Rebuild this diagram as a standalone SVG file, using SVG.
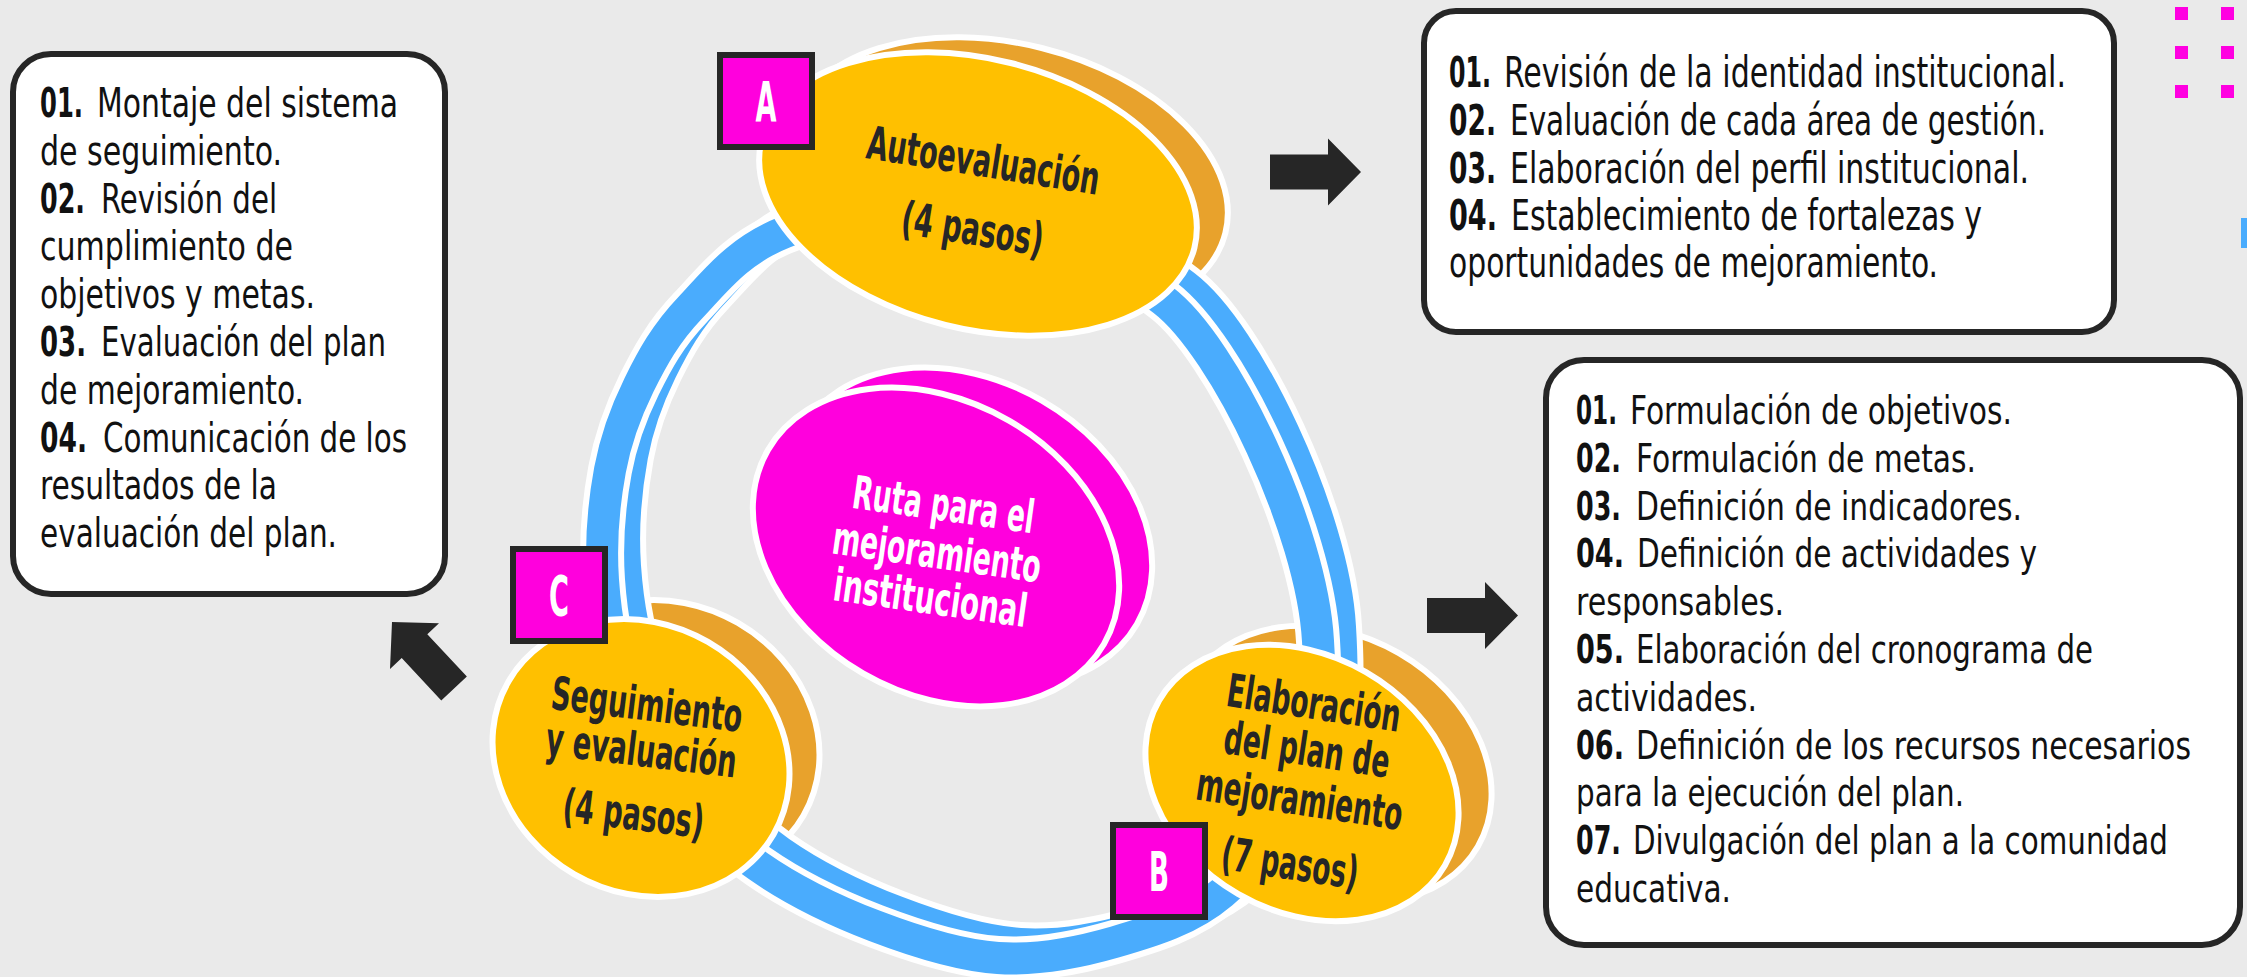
<svg xmlns="http://www.w3.org/2000/svg" width="2247" height="977" viewBox="0 0 2247 977">
<defs>
<style>
.bg{fill:#eaeaea}
.ring-w{fill:none;stroke:#fff;stroke-width:44;stroke-linejoin:round}
.ring-b{fill:none;stroke:#4aacfd;stroke-width:32;stroke-linejoin:round}
.depth{fill:#e8a22c;stroke:#fff;stroke-width:6}
.front{fill:#ffc000;stroke:#fff;stroke-width:6}
.mag{fill:#ff00dd;stroke:#fff;stroke-width:6}
.lbl{fill:#ff00dd;stroke:#262626;stroke-width:6}
.cond{font-family:'Liberation Sans Narrow','DejaVu Sans Condensed','Liberation Sans',sans-serif}
.lt{font-weight:700;font-size:56px;fill:#fff;text-anchor:middle}
.nt{font-weight:700;font-size:46px;fill:#262626;text-anchor:middle}
.ct{font-weight:700;font-size:46px;fill:#fff;text-anchor:middle}
.box{fill:#fff;stroke:#262626;stroke-width:6}
.bt{fill:#111}
.n{font-weight:700}
.arrow{fill:#262626}
.dot{fill:#ff00e1}
</style>
<path id="ring" d="M975,197 C1038,208.3 1120.2,267.5 1163,300 C1225,347 1312,530 1318,641 C1321,689 1321,738 1305,780 C1289,822 1253.7,866 1222,893 C1190.3,920 1152.3,931.2 1115,942 C1077.7,952.8 1038,960.7 998,958 C958,955.3 915,941.3 875,926 C835,910.7 790.5,888.7 758,866 C725.5,843.3 702.2,819.3 680,790 C657.8,760.7 637.8,725 625,690 C612.2,655 605.5,616.7 603,580 C600.5,543.3 604,502.5 610,470 C616,437.5 625.7,412 639,385 C652.3,358 665.7,333.5 690,308 C714.3,282.5 737.5,250.5 785,232 C832.5,213.5 912,185.7 975,197 Z"/>
<path id="arr" d="M-91,-17.5H-33V-33.5L0,0L-33,33.5V17.5H-91Z"/>
</defs>

<rect class="bg" x="0" y="0" width="2247" height="977"/>

<g id="decor">
<rect class="dot" x="2175" y="7" width="13" height="13"/>
<rect class="dot" x="2221" y="7" width="13" height="13"/>
<rect class="dot" x="2175" y="46" width="13" height="13"/>
<rect class="dot" x="2221" y="46" width="13" height="13"/>
<rect class="dot" x="2175" y="85" width="13" height="13"/>
<rect class="dot" x="2221" y="85" width="13" height="13"/>
<rect x="2241" y="218" width="6" height="30" fill="#4aacfd"/>
</g>

<g id="node-depth">
<ellipse class="depth" cx="0" cy="0" rx="223" ry="135" transform="translate(1009,179) rotate(14)"/>
<ellipse class="depth" cx="0" cy="0" rx="165" ry="128" transform="translate(1335,764) rotate(30)"/>
<ellipse class="depth" cx="0" cy="0" rx="153" ry="134" transform="translate(671,739) rotate(30)"/>
</g>

<g id="connectors">
<use href="#ring" class="ring-w" transform="translate(22,-14)"/>
<use href="#ring" class="ring-b" transform="translate(22,-14)"/>
<use href="#ring" class="ring-w"/>
<use href="#ring" class="ring-b"/>
<use href="#arr" class="arrow" transform="translate(1361,172)"/>
<use href="#arr" class="arrow" transform="translate(1518,615.5)"/>
<use href="#arr" class="arrow" transform="translate(392,622) rotate(-133)"/>
</g>

<g id="node-autoevaluacion">
<ellipse class="front" cx="0" cy="0" rx="223" ry="135" transform="translate(978,194) rotate(14)"/>
<g transform="rotate(9 976 208)">
<text class="cond nt" x="976" y="176" textLength="235" lengthAdjust="spacingAndGlyphs">Autoevaluación</text>
<text class="cond nt" x="976" y="245" textLength="143" lengthAdjust="spacingAndGlyphs">(4 pasos)</text>
</g>
</g>

<g id="node-elaboracion">
<ellipse class="front" cx="0" cy="0" rx="165" ry="128" transform="translate(1302,783) rotate(30)"/>
<g transform="rotate(8.5 1301 790)">
<text class="cond nt" x="1301" y="718" textLength="175" lengthAdjust="spacingAndGlyphs">Elaboración</text>
<text class="cond nt" x="1301" y="765" textLength="167" lengthAdjust="spacingAndGlyphs">del plan de</text>
<text class="cond nt" x="1301" y="815" textLength="208" lengthAdjust="spacingAndGlyphs">mejoramiento</text>
<text class="cond nt" x="1301" y="880" textLength="138" lengthAdjust="spacingAndGlyphs">(7 pasos)</text>
</g>
</g>

<g id="node-seguimiento">
<ellipse class="front" cx="0" cy="0" rx="153" ry="134" transform="translate(641,758) rotate(30)"/>
<g transform="rotate(7 639 770)">
<text class="cond nt" x="639" y="720" textLength="192" lengthAdjust="spacingAndGlyphs">Seguimiento</text>
<text class="cond nt" x="639" y="766" textLength="192" lengthAdjust="spacingAndGlyphs">y evaluación</text>
<text class="cond nt" x="639" y="830" textLength="142" lengthAdjust="spacingAndGlyphs">(4 pasos)</text>
</g>
</g>

<g id="node-ruta">
<ellipse class="mag" cx="0" cy="0" rx="194" ry="146" transform="translate(969,527) rotate(30)"/>
<ellipse class="mag" cx="0" cy="0" rx="194" ry="146" transform="translate(936,547) rotate(30)"/>
<g transform="rotate(8 935 566)">
<text class="cond ct" x="935" y="520" textLength="183" lengthAdjust="spacingAndGlyphs">Ruta para el</text>
<text class="cond ct" x="935" y="568" textLength="210" lengthAdjust="spacingAndGlyphs">mejoramiento</text>
<text class="cond ct" x="935" y="614" textLength="195" lengthAdjust="spacingAndGlyphs">institucional</text>
</g>
</g>

<g id="label-A">
<rect class="lbl" x="720" y="55" width="92" height="92"/>
<text class="cond lt" x="766" y="121" textLength="21" lengthAdjust="spacingAndGlyphs">A</text>
</g>
<g id="label-B">
<rect class="lbl" x="1113" y="825" width="92" height="92"/>
<text class="cond lt" x="1159" y="891" textLength="20" lengthAdjust="spacingAndGlyphs">B</text>
</g>
<g id="label-C">
<rect class="lbl" x="513" y="549" width="92" height="92"/>
<text class="cond lt" x="559" y="615" textLength="20" lengthAdjust="spacingAndGlyphs">C</text>
</g>

<g id="box-seguimiento">
<rect class="box" x="13" y="54" width="432" height="540" rx="38"/>
<g class="cond bt" font-size="40">
<text class="n" x="40" y="117" textLength="43" lengthAdjust="spacingAndGlyphs">01.</text>
<text x="97" y="117" textLength="301" lengthAdjust="spacingAndGlyphs">Montaje del sistema</text>
<text x="40" y="165" textLength="242" lengthAdjust="spacingAndGlyphs">de seguimiento.</text>
<text class="n" x="40" y="213" textLength="45" lengthAdjust="spacingAndGlyphs">02.</text>
<text x="101" y="213" textLength="176" lengthAdjust="spacingAndGlyphs">Revisión del</text>
<text x="40" y="260" textLength="253" lengthAdjust="spacingAndGlyphs">cumplimiento de</text>
<text x="40" y="308" textLength="275" lengthAdjust="spacingAndGlyphs">objetivos y metas.</text>
<text class="n" x="40" y="356" textLength="46" lengthAdjust="spacingAndGlyphs">03.</text>
<text x="101" y="356" textLength="285" lengthAdjust="spacingAndGlyphs">Evaluación del plan</text>
<text x="40" y="404" textLength="264" lengthAdjust="spacingAndGlyphs">de mejoramiento.</text>
<text class="n" x="40" y="452" textLength="47" lengthAdjust="spacingAndGlyphs">04.</text>
<text x="103" y="452" textLength="304" lengthAdjust="spacingAndGlyphs">Comunicación de los</text>
<text x="40" y="499" textLength="237" lengthAdjust="spacingAndGlyphs">resultados de la</text>
<text x="40" y="547" textLength="297" lengthAdjust="spacingAndGlyphs">evaluación del plan.</text>
</g>
</g>

<g id="box-autoevaluacion">
<rect class="box" x="1424" y="11" width="690" height="321" rx="32"/>
<g class="cond bt" font-size="42">
<text class="n" x="1449" y="87" textLength="42" lengthAdjust="spacingAndGlyphs">01.</text>
<text x="1504" y="87" textLength="562" lengthAdjust="spacingAndGlyphs">Revisión de la identidad institucional.</text>
<text class="n" x="1449" y="135" textLength="47" lengthAdjust="spacingAndGlyphs">02.</text>
<text x="1510" y="135" textLength="536" lengthAdjust="spacingAndGlyphs">Evaluación de cada área de gestión.</text>
<text class="n" x="1449" y="183" textLength="47" lengthAdjust="spacingAndGlyphs">03.</text>
<text x="1510" y="183" textLength="519" lengthAdjust="spacingAndGlyphs">Elaboración del perfil institucional.</text>
<text class="n" x="1449" y="230" textLength="48" lengthAdjust="spacingAndGlyphs">04.</text>
<text x="1511" y="230" textLength="471" lengthAdjust="spacingAndGlyphs">Establecimiento de fortalezas y</text>
<text x="1449" y="277" textLength="489" lengthAdjust="spacingAndGlyphs">oportunidades de mejoramiento.</text>
</g>
</g>

<g id="box-elaboracion">
<rect class="box" x="1546" y="360" width="694" height="585" rx="38"/>
<g class="cond bt" font-size="39">
<text class="n" x="1576" y="424" textLength="41" lengthAdjust="spacingAndGlyphs">01.</text>
<text x="1630" y="424" textLength="382" lengthAdjust="spacingAndGlyphs">Formulación de objetivos.</text>
<text class="n" x="1576" y="472" textLength="45" lengthAdjust="spacingAndGlyphs">02.</text>
<text x="1636" y="472" textLength="340" lengthAdjust="spacingAndGlyphs">Formulación de metas.</text>
<text class="n" x="1576" y="520" textLength="45" lengthAdjust="spacingAndGlyphs">03.</text>
<text x="1636" y="520" textLength="386" lengthAdjust="spacingAndGlyphs">Definición de indicadores.</text>
<text class="n" x="1576" y="567" textLength="48" lengthAdjust="spacingAndGlyphs">04.</text>
<text x="1637" y="567" textLength="400" lengthAdjust="spacingAndGlyphs">Definición de actividades y</text>
<text x="1576" y="615" textLength="208" lengthAdjust="spacingAndGlyphs">responsables.</text>
<text class="n" x="1576" y="663" textLength="48" lengthAdjust="spacingAndGlyphs">05.</text>
<text x="1636" y="663" textLength="457" lengthAdjust="spacingAndGlyphs">Elaboración del cronograma de</text>
<text x="1576" y="711" textLength="181" lengthAdjust="spacingAndGlyphs">actividades.</text>
<text class="n" x="1576" y="759" textLength="48" lengthAdjust="spacingAndGlyphs">06.</text>
<text x="1636" y="759" textLength="555" lengthAdjust="spacingAndGlyphs">Definición de los recursos necesarios</text>
<text x="1576" y="806" textLength="388" lengthAdjust="spacingAndGlyphs">para la ejecución del plan.</text>
<text class="n" x="1576" y="854" textLength="45" lengthAdjust="spacingAndGlyphs">07.</text>
<text x="1633" y="854" textLength="535" lengthAdjust="spacingAndGlyphs">Divulgación del plan a la comunidad</text>
<text x="1576" y="902" textLength="155" lengthAdjust="spacingAndGlyphs">educativa.</text>
</g>
</g>
</svg>
